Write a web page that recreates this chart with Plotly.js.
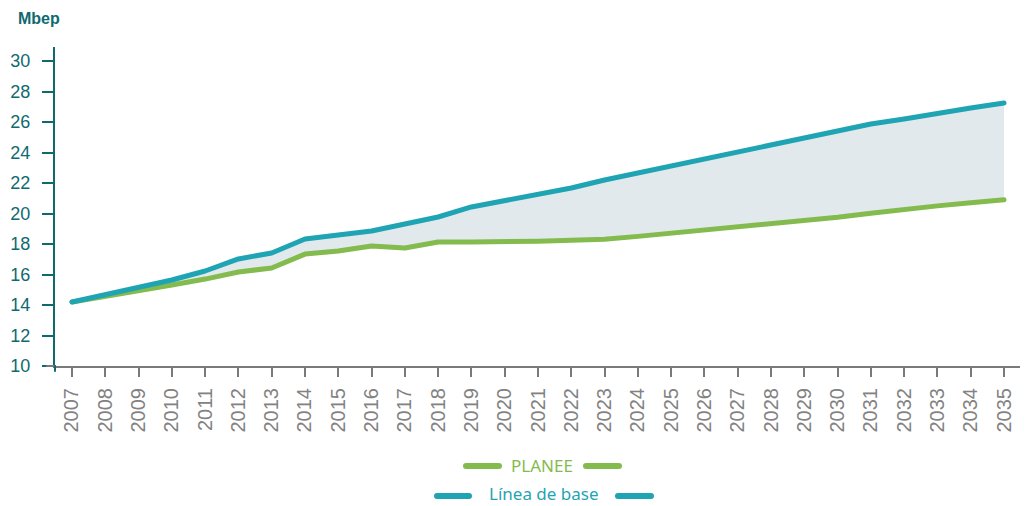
<!DOCTYPE html>
<html>
<head>
<meta charset="utf-8">
<script src="https://cdn.plot.ly/plotly-3.0.1.min.js"></script>
<style>html,body{margin:0;padding:0;background:#fff;}#chart{width:1025px;height:506px;}</style>
</head>
<body>
<div id="chart"></div>
<script>
const years = ['2007','2008','2009','2010','2011','2012','2013','2014','2015','2016','2017','2018','2019','2020','2021','2022','2023','2024','2025','2026','2027','2028','2029','2030','2031','2032','2033','2034','2035'];
const planee = [14.2,14.55,14.92,15.31,15.70,16.16,16.43,17.34,17.54,17.87,17.74,18.13,18.13,18.13,18.18,18.24,18.31,18.50,18.70,18.90,19.10,19.30,19.50,19.76,20.02,20.28,20.50,20.70,20.90];
const lineaBase = [14.2,14.67,15.14,15.64,16.23,17.02,17.41,18.33,18.59,18.85,19.31,19.77,20.43,20.82,21.21,21.67,22.20,22.66,23.11,23.57,24.03,24.49,24.95,25.41,25.87,26.20,26.52,26.92,27.25];
const yTicks = [10,12,14,16,18,20,22,24,26,28,30];
const seriesNames = ['PLANEE','Línea de base'];

const GREEN = '#84bb4e';
const TEAL = '#1fa4b4';
const DARK = '#0f6a70';

const traces = [
  {x: years, y: planee, type: 'scatter', mode: 'lines', name: seriesNames[0],
   line: {color: GREEN, width: 5}, showlegend: false, hoverinfo: 'skip'},
  {x: years, y: lineaBase, type: 'scatter', mode: 'lines', name: seriesNames[1],
   line: {color: TEAL, width: 5}, fill: 'tonexty', fillcolor: '#e2e9ec', showlegend: false, hoverinfo: 'skip'}
];

const L = 55, R = 1020, T = 47, B = 366;
const px = v => (v - L) / (R - L);
const py = v => (B - v) / (B - T);

const legendShapes = [];
function seg(x1, x2, y, color) {
  legendShapes.push({type: 'line', xref: 'paper', yref: 'paper', x0: px(x1), x1: px(x2), y0: py(y), y1: py(y),
    line: {color: color, width: 6}});
}
seg(466, 499, 466, GREEN); seg(586, 619, 466, GREEN);
seg(437, 469, 496, TEAL); seg(618, 651, 496, TEAL);
// small overhangs of the axis lines, as in the reference
legendShapes.push({type: 'line', xref: 'paper', yref: 'paper', x0: px(47), x1: px(55), y0: 0, y1: 0, line: {color: '#7a7a7a', width: 2}});
legendShapes.push({type: 'line', xref: 'paper', yref: 'paper', x0: 0, x1: 0, y0: py(366), y1: py(371), line: {color: DARK, width: 2}});

const layout = {
  width: 1025, height: 506,
  margin: {l: L, r: 1025 - R, t: T, b: 506 - B},
  paper_bgcolor: '#ffffff', plot_bgcolor: '#ffffff',
  showlegend: false,
  title: {text: '<b>Mbep</b>', x: 18/1025, xref: 'container', xanchor: 'left', y: 1 - 18/506, yref: 'container', yanchor: 'middle',
    font: {family: 'Liberation Sans, Arial, sans-serif', size: 16, color: DARK}},
  xaxis: {type: 'category', range: [-0.51, 28.48], showgrid: false, zeroline: false,
    showline: true, linecolor: '#7a7a7a', linewidth: 2,
    ticks: 'outside', ticklen: 9, tickwidth: 2, tickcolor: '#7a7a7a',
    tickangle: -90, tickfont: {family: 'Liberation Sans, Arial, sans-serif', size: 20, color: '#828282'},
    ticklabelstandoff: 3,
    fixedrange: true},
  yaxis: {range: [10, 10 + (B - T) / 15.25], showgrid: false, zeroline: false,
    tickvals: yTicks, ticktext: yTicks.map(String),
    showline: true, linecolor: DARK, linewidth: 2,
    ticks: 'outside', ticklen: 11, tickwidth: 2, tickcolor: DARK,
    tickfont: {family: 'Liberation Sans, Arial, sans-serif', size: 18, color: DARK},
    ticklabelstandoff: 8,
    fixedrange: true},
  shapes: legendShapes,
  annotations: [
    {text: seriesNames[0], xref: 'paper', yref: 'paper', x: px(542), y: py(465), xanchor: 'center', yanchor: 'middle', showarrow: false, borderpad: 0,
     font: {family: 'Noto Sans, sans-serif', size: 17, color: GREEN}},
    {text: seriesNames[1], xref: 'paper', yref: 'paper', x: px(544), y: py(493), xanchor: 'center', yanchor: 'middle', showarrow: false, borderpad: 0,
     font: {family: 'Noto Sans, sans-serif', size: 17, color: TEAL}}
  ]
};

Plotly.newPlot('chart', traces, layout, {staticPlot: true, displayModeBar: false}).then(() => {
  document.querySelectorAll('.shapelayer path').forEach(p => p.style.strokeLinecap = 'round');
  document.querySelectorAll('.scatterlayer .js-line').forEach(p => { p.style.strokeLinecap = 'round'; p.style.strokeLinejoin = 'round'; });
});
</script>
</body>
</html>
